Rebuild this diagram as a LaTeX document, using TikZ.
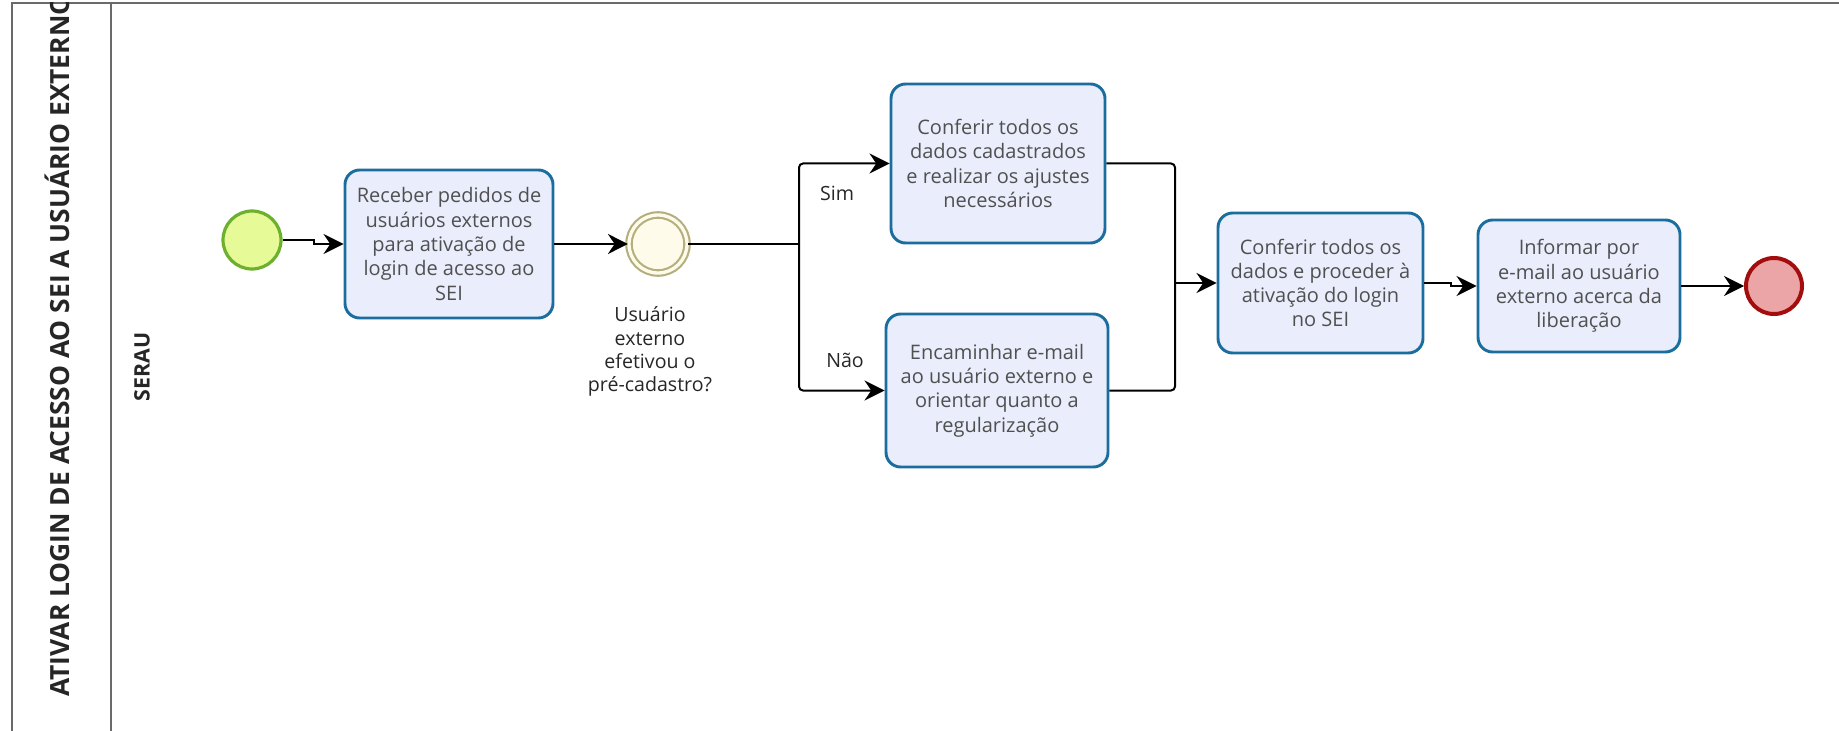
\documentclass[tikz,border=0pt]{standalone}
\usepackage{fontspec}
\setmainfont{Open Sans}
\usetikzlibrary{arrows.meta}
\definecolor{taskfill}{HTML}{EAEEFC}
\definecolor{taskdraw}{HTML}{1B6D9E}
\definecolor{tasktext}{HTML}{505050}
\definecolor{startfill}{HTML}{E6FA98}
\definecolor{startdraw}{HTML}{6CB02E}
\definecolor{endfill}{HTML}{EBA5A6}
\definecolor{enddraw}{HTML}{A30D0D}
\definecolor{gwfill}{HTML}{FFFBEA}
\definecolor{gwdraw}{HTML}{B3AF7E}
\definecolor{poolline}{HTML}{6A6A6A}
\begin{document}
\begin{tikzpicture}[x=0.75pt,y=-0.75pt,
  taskbox/.style={draw=taskdraw, fill=taskfill, line width=2.2pt, rounded corners=11pt,
    align=center, text=tasktext, font=\fontsize{15}{18.2}\selectfont, inner sep=0pt},
  sz/.style 2 args={minimum width=#1*0.75pt, minimum height=#2*0.75pt},
  tip/.style={-{Stealth[length=15pt,width=15pt,inset=5pt]}},
  flow/.style={draw=black, line width=1.5pt, rounded corners=3pt, tip},
  jog/.style={draw=black, line width=1.5pt, tip},
  plain/.style={draw=black, line width=1.5pt, rounded corners=3pt},
  lbl/.style={text=black!85, font=\fontsize{14.7}{17.5}\selectfont, align=center},
  pool/.style={draw=poolline, line width=1.6pt},
]
\useasboundingbox (0,0) rectangle (1839,731);
% pool frame
\draw[pool] (12,731) -- (12,3) -- (1839,3);
\draw[pool] (111,3) -- (111,731);
\begin{scope}
\clip (12,3) rectangle (111,731);
\node[rotate=90, anchor=west, inner sep=0pt, text=black!85,
  font=\bfseries\fontsize{19.8}{22}\selectfont] (title) at (57,697)
  {ATIVAR LOGIN DE ACESSO AO SEI A USUÁRIO EXTERNO};
\end{scope}
\node[rotate=90, inner sep=0pt, text=black!85,
  font=\bfseries\fontsize{16}{18}\selectfont] (lane) at (142,367) {SERAU};

% events
\node[circle, draw=startdraw, fill=startfill, line width=2.4pt, minimum size=58*0.75pt, inner sep=0pt] (start) at (252,240) {};
\node[circle, draw=enddraw, fill=endfill, line width=3pt, minimum size=56*0.75pt, inner sep=0pt] (end) at (1774,286) {};
\node[circle, draw=gwdraw, fill=gwfill, line width=1.6pt, double=gwfill, double distance=2.5pt, minimum size=58*0.75pt, inner sep=0pt] (gw) at (658,244) {};
\node[lbl, anchor=north] (gwlabel) at (650,302) {Usuário\\externo\\efetivou o\\pré-cadastro?};

% tasks
\node[taskbox, sz={208}{148}] (t1) at (449,244) {Receber pedidos de\\usuários externos\\para ativação de\\login de acesso ao\\SEI};
\node[taskbox, sz={214}{159}] (sim) at (998,163.5) {Conferir todos os\\dados cadastrados\\e realizar os ajustes\\necessários};
\node[taskbox, sz={222}{153}] (nao) at (997,390.5) {Encaminhar e-mail\\ao usuário externo e\\orientar quanto a\\regularização};
\node[taskbox, sz={205}{140}] (t3) at (1320.5,283) {Conferir todos os\\dados e proceder à\\ativação do login\\no SEI};
\node[taskbox, sz={202}{132}] (t4) at (1579,286) {Informar por\\e-mail ao usuário\\externo acerca da\\liberação};

% connector points
\coordinate (split) at (799,244);
\coordinate (join) at (1175,283);

% connectors
\draw[jog] (start.east) -- ++(31,0) |- (t1.west);
\draw[flow] (t1.east) -- (gw.west);
\draw[plain] (gw.east) -- (split);
\draw[flow] (split) |- (sim.west);
\draw[flow] (split) |- (nao.west);
\draw[plain] (sim.east) -| (join);
\draw[plain] (nao.east) -| (join);
\draw[flow] (join) -- (t3.west);
\draw[jog] (t3.east) -- ++(27,0) |- (t4.west);
\draw[flow] (t4.east) -- (end.west);

\node[lbl] (simlbl) at (837,193) {Sim};
\node[lbl] (naolbl) at (845,360) {Não};
\end{tikzpicture}
\end{document}
